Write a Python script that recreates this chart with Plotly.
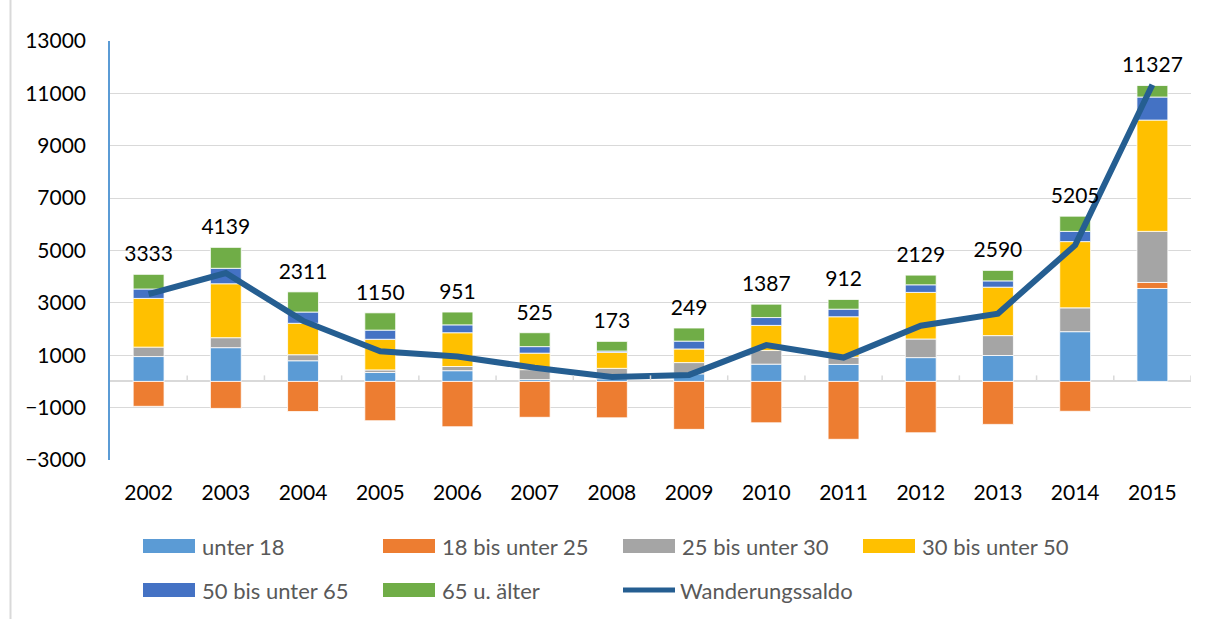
import plotly.graph_objects as go

years = ["2002", "2003", "2004", "2005", "2006", "2007", "2008",
         "2009", "2010", "2011", "2012", "2013", "2014", "2015"]

unter_18 = [950, 1290, 790, 340, 410, 70, 100, 290, 660, 650, 910, 990, 1900, 3550]
bis_25 = [-950, -1030, -1150, -1500, -1730, -1370, -1390, -1830, -1580, -2210, -1960, -1640, -1140, 230]
bis_30 = [360, 380, 230, 100, 160, 380, 400, 430, 520, 280, 710, 760, 910, 1950]
bis_50 = [1860, 2060, 1200, 1170, 1290, 630, 610, 520, 960, 1540, 1780, 1850, 2530, 4250]
bis_65 = [360, 590, 430, 350, 300, 250, 50, 300, 300, 290, 290, 240, 390, 880]
ab_65 = [560, 800, 770, 660, 490, 530, 370, 500, 510, 370, 370, 400, 580, 440]
saldo = [3333, 4139, 2311, 1150, 951, 525, 173, 249, 1387, 912, 2129, 2590, 5205, 11327]

series_names = ["unter 18", "18 bis unter 25", "25 bis unter 30",
                "30 bis unter 50", "50 bis unter 65", "65 u. älter"]
series_values = [unter_18, bis_25, bis_30, bis_50, bis_65, ab_65]
series_colors = ["#5B9BD5", "#ED7D31", "#A5A5A5", "#FFC000", "#4472C4", "#70AD47"]
line_name = "Wanderungssaldo"
line_color = "#255E91"

FONT = "Lato, 'Open Sans', sans-serif"

# plot area in pixels
W, H = 1206, 619
L, R, T, B = 110, 1191, 41, 460


def px(xp, yp):
    return (xp - L) / (R - L), (B - yp) / (B - T)


fig = go.Figure()
for name, vals, col in zip(series_names, series_values, series_colors):
    fig.add_trace(go.Bar(
        x=years, y=vals, name=name, marker_color=col,
        marker_line=dict(color="white", width=0.8), showlegend=False,
    ))

fig.add_trace(go.Scatter(
    x=years, y=saldo, name=line_name, mode="lines",
    line=dict(color=line_color, width=6), showlegend=False,
))

# data labels above the positive part of each stacked bar
pos_top = [sum(v for v in col if v > 0) for col in zip(*series_values)]
fig.add_trace(go.Scatter(
    x=years, y=pos_top, mode="markers+text", text=[str(v) for v in saldo],
    marker=dict(size=11, opacity=0, color="white"),
    textposition="top center", textfont=dict(family=FONT, size=21, color="#000000"),
    showlegend=False, hoverinfo="skip",
))

shapes = []
# small tick marks on the zero line between categories
for i in range(len(years)):
    shapes.append(dict(type="line", xref="x", yref="y", x0=i + 0.5, x1=i + 0.5,
                       y0=0, y1=230, line=dict(color="#D9D9D9", width=1.5)))
# left frame line
x0p, _ = px(10.5, 0)
_, ytop = px(0, 0)
_, ybot = px(0, H)
shapes.append(dict(type="line", xref="paper", yref="paper", x0=x0p, x1=x0p,
                   y0=ybot, y1=ytop, line=dict(color="#D9D9D9", width=2)))

# manual legend (Excel style)
legend_slots = [(143, 546), (383, 546), (623, 546), (863, 546),
                (143, 590), (383, 590), (621, 590)]
annotations = []
entries = list(zip(series_names, series_colors)) + [(line_name, line_color)]
for k, ((name, col), (sx, sy)) in enumerate(zip(entries, legend_slots)):
    if k < len(series_names):
        xa, ya = px(sx, sy - 7)
        xb, yb = px(sx + 52, sy + 7)
        shapes.append(dict(type="rect", xref="paper", yref="paper",
                           x0=xa, x1=xb, y0=yb, y1=ya,
                           fillcolor=col, line=dict(width=0)))
    else:
        xa, ya = px(sx + 2, sy)
        xb, _ = px(sx + 54, sy)
        shapes.append(dict(type="line", xref="paper", yref="paper",
                           x0=xa, x1=xb, y0=ya, y1=ya,
                           line=dict(color=col, width=5)))
    axp, ayp = px(sx + 57, sy)
    annotations.append(dict(xref="paper", yref="paper", x=axp, y=ayp,
                            xanchor="left", yanchor="middle", showarrow=False,
                            text=name, font=dict(family=FONT, size=22, color="#595959")))

fig.update_layout(
    width=W, height=H,
    margin=dict(l=L, r=W - R, t=T, b=H - B),
    barmode="relative", bargap=0.6,
    plot_bgcolor="white", paper_bgcolor="white",
    font=dict(family=FONT, size=21, color="#000000"),
    showlegend=False,
    shapes=shapes, annotations=annotations,
    xaxis=dict(type="category", showgrid=False, showline=False, ticks="",
               tickfont=dict(family=FONT, size=21, color="#000000"),
               ticklabelstandoff=18, range=[-0.5, len(years) - 0.5]),
    yaxis=dict(range=[-3000, 13000], tick0=-3000, dtick=2000,
               showgrid=True, gridcolor="#D9D9D9", gridwidth=1.3,
               zeroline=True, zerolinecolor="#D9D9D9", zerolinewidth=2,
               showline=True, linecolor="#5B9BD5", linewidth=1.5,
               tickfont=dict(family=FONT, size=21, color="#000000"),
               ticklabelstandoff=18, tickformat="d"),
)

fig.write_html("out.html", config={"displayModeBar": False},
               post_script="document.body.style.margin='0';")
